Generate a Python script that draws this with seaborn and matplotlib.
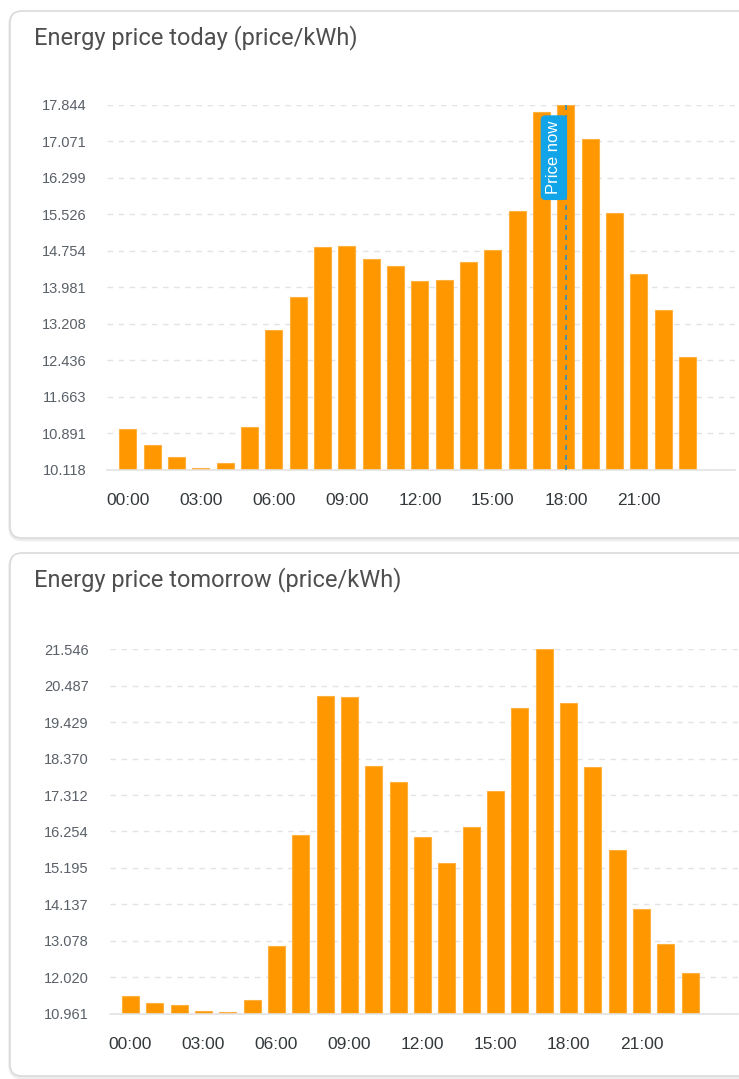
import numpy as np
import pandas as pd
import matplotlib
matplotlib.use('Agg')
import matplotlib.pyplot as plt
from matplotlib.patches import FancyBboxPatch
import seaborn as sns

# Data (price/kWh per hour)
hours = ['00:00', '01:00', '02:00', '03:00', '04:00', '05:00', '06:00', '07:00',
         '08:00', '09:00', '10:00', '11:00', '12:00', '13:00', '14:00', '15:00',
         '16:00', '17:00', '18:00', '19:00', '20:00', '21:00', '22:00', '23:00']
prices_today = [10.987, 10.648, 10.386, 10.160, 10.259, 11.015, 13.070, 13.783,
                14.828, 14.864, 14.581, 14.433, 14.122, 14.136, 14.511, 14.765,
                15.591, 17.696, 17.844, 17.124, 15.563, 14.256, 13.494, 12.498]
prices_tomorrow = [11.484, 11.261, 11.203, 11.030, 11.000, 11.348, 12.917, 16.152,
                   20.200, 20.151, 18.147, 17.691, 16.094, 15.328, 16.394, 17.420,
                   19.832, 21.546, 19.996, 18.137, 15.706, 13.992, 12.975, 12.142]
yticklabels_today = ['10.118', '10.891', '11.663', '12.436', '13.208', '13.981',
                     '14.754', '15.526', '16.299', '17.071', '17.844']
yticklabels_tomorrow = ['10.961', '12.020', '13.078', '14.137', '15.195', '16.254',
                        '17.312', '18.370', '19.429', '20.487', '21.546']
xtick_hours = [0, 3, 6, 9, 12, 15, 18, 21]
xtick_labels = ['00:00', '03:00', '06:00', '09:00', '12:00', '15:00', '18:00', '21:00']
now_hour = 18

BAR = '#FF9800'
NOW = '#12A4E8'
GRID = '#E3E3E3'

sns.set_style('white')
plt.rcParams['font.family'] = ['Liberation Sans', 'DejaVu Sans']

W, H = 739, 1079
fig = plt.figure(figsize=(W / 100, H / 100), dpi=100)
fig.patch.set_facecolor('white')

# background layer in pixel coordinates for the cards and titles
bg = fig.add_axes([0, 0, 1, 1], zorder=-1)
bg.set_xlim(0, W)
bg.set_ylim(H, 0)
bg.axis('off')
for (top, bottom, title) in [(11, 538, 'Energy price today (price/kWh)'),
                             (553, 1076, 'Energy price tomorrow (price/kWh)')]:
    # faint shadow then the card itself
    bg.add_patch(FancyBboxPatch((10, top + 1.5), 780, bottom - top,
                                boxstyle='round,pad=0,rounding_size=12',
                                fc='none', ec='#EDEDED', lw=2.5))
    bg.add_patch(FancyBboxPatch((10, top), 780, bottom - top,
                                boxstyle='round,pad=0,rounding_size=12',
                                fc='white', ec='#D9D9D9', lw=1.1))
    bg.text(34, top + 27, title, fontsize=17, color='#4F4F4F',
            va='center', ha='left', family='Roboto')


def draw_panel(ax, prices, ylabels, now=None):
    df = pd.DataFrame({'hour': hours, 'price': prices})
    sns.barplot(data=df, x='hour', y='price', color=BAR, saturation=1,
                width=0.7, edgecolor='#FFB040', linewidth=0.8, ax=ax)
    ticks = [float(t) for t in ylabels]
    ax.set_ylim(ticks[0], ticks[-1])
    ax.set_xlim(-0.86, 24.95)
    ax.set_yticks(ticks)
    ax.set_yticklabels(ylabels)
    ax.set_xticks(xtick_hours)
    ax.set_xticklabels(xtick_labels)
    ax.set_xlabel('')
    ax.set_ylabel('')
    ax.set_facecolor('none')
    ax.set_axisbelow(True)
    ax.grid(axis='y', color=GRID, linestyle=(0, (4, 4)), linewidth=1)
    ax.grid(axis='x', visible=False)
    for s in ['top', 'right', 'left']:
        ax.spines[s].set_visible(False)
    ax.spines['bottom'].set_color(GRID)
    ax.spines['bottom'].set_linewidth(1.2)
    ax.tick_params(axis='y', length=0, pad=15, labelsize=10.5, labelcolor='#5A6068')
    ax.tick_params(axis='x', length=5, width=1, color='#D8D8D8', pad=12,
                   labelsize=12.5, labelcolor='#33383B')
    if now is not None:
        ax.axvline(now, color='#2E8FC0', linestyle=(0, (3, 3)), linewidth=1.2, zorder=4)
        ax.annotate('Price now', xy=(now, ticks[-1]), xytext=(-12, -16),
                    textcoords='offset pixels', rotation=90, ha='center', va='top',
                    fontsize=12, color='white', zorder=5,
                    bbox=dict(boxstyle='round,pad=0.3,rounding_size=0.25',
                              fc=NOW, ec=NOW))


ax1 = fig.add_axes([107 / W, 1 - 469.7 / H, 628 / W, (469.7 - 105) / H])
draw_panel(ax1, prices_today, yticklabels_today, now=now_hour)

ax2 = fig.add_axes([109.5 / W, 1 - 1013.7 / H, 628 / W, (1013.7 - 649.3) / H])
draw_panel(ax2, prices_tomorrow, yticklabels_tomorrow)

fig.savefig('out.png', dpi=100, facecolor='white')
